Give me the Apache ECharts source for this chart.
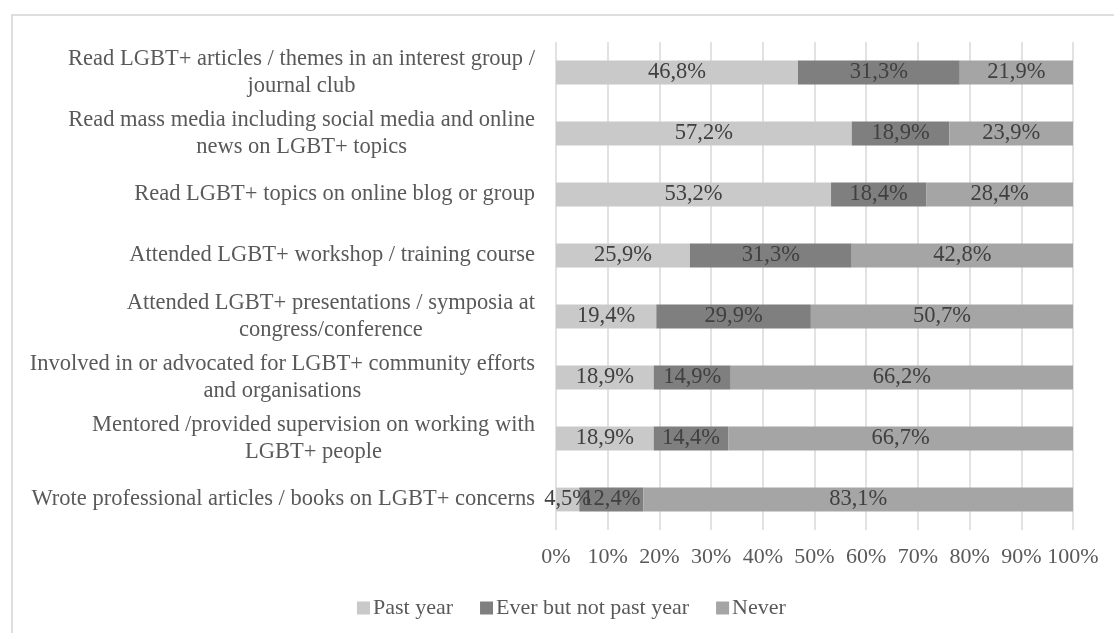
<!DOCTYPE html>
<html>
<head>
<meta charset="utf-8">
<script src="https://cdn.jsdelivr.net/npm/echarts@6/dist/echarts.min.js"></script>
<style>
  html, body { margin: 0; padding: 0; background: #ffffff; overflow: hidden; }
  #frame { position: absolute; left: 11px; top: 14px; width: 1200px; height: 700px;
           border: 2px solid #dedede; box-sizing: border-box; }
  #chart { position: absolute; left: 0; top: 0; width: 1114px; height: 633px; }
</style>
</head>
<body>
<div id="frame"></div>
<div id="chart"></div>
<script>
// Activities, top to bottom
const categories = [
  'Read LGBT+ articles / themes in an interest group /\njournal club',
  'Read mass media including social media and online\nnews on LGBT+ topics',
  'Read LGBT+ topics on online blog or group',
  'Attended LGBT+ workshop / training course',
  'Attended LGBT+ presentations / symposia at\ncongress/conference',
  'Involved in or advocated for LGBT+ community efforts\nand organisations',
  'Mentored /provided supervision on working with\nLGBT+ people',
  'Wrote professional articles / books on LGBT+ concerns'
];

// Share of respondents (%) per activity
const pastYear         = [46.8, 57.2, 53.2, 25.9, 19.4, 18.9, 18.9, 4.5];
const everNotPastYear  = [31.3, 18.9, 18.4, 31.3, 29.9, 14.9, 14.4, 12.4];
const never            = [21.9, 23.9, 28.4, 42.8, 50.7, 66.2, 66.7, 83.1];

const seriesNames = ['Past year', 'Ever but not past year', 'Never'];
const seriesColors = ['#c9c9c9', '#7f7f7f', '#a5a5a5'];

const FONT = '"Liberation Serif", "Times New Roman", serif';
const AXIS_COLOR = '#595959';
const LABEL_COLOR = '#404040';

const chart = echarts.init(document.getElementById('chart'), null, { renderer: 'canvas' });

function pct(v) {
  return v.toFixed(1).replace('.', ',') + '%';
}

const seriesData = [pastYear, everNotPastYear, never];

chart.setOption({
  animation: false,
  textStyle: { fontFamily: FONT },
  grid: { left: 556, right: 41, top: 42, bottom: 103, containLabel: false },
  xAxis: {
    type: 'value',
    min: 0,
    max: 100,
    interval: 10,
    axisLine: { show: false },
    axisTick: { show: false },
    axisLabel: {
      formatter: '{value}%',
      fontFamily: FONT,
      fontSize: 22,
      color: AXIS_COLOR,
      margin: 16
    },
    splitLine: { show: true, lineStyle: { color: '#d9d9d9', width: 1.5 } }
  },
  yAxis: {
    type: 'category',
    inverse: true,
    data: categories,
    axisLine: { show: false },
    axisTick: { show: false },
    axisLabel: {
      margin: 21,
      align: 'right',
      formatter: function (v) {
        return v.split('\n').map(function (s) { return '{c|' + s + '}'; }).join('\n');
      },
      rich: {
        c: { align: 'center', fontFamily: FONT, fontSize: 22.5, lineHeight: 27, color: AXIS_COLOR }
      }
    }
  },
  legend: {
    left: 352,
    top: 592,
    icon: 'rect',
    itemWidth: 13,
    itemHeight: 13,
    itemGap: 27,
    textStyle: { fontFamily: FONT, fontSize: 22, color: AXIS_COLOR, padding: [0, 0, 0, -2] },
    data: seriesNames
  },
  series: seriesNames.map(function (name, i) {
    return {
      name: name,
      type: 'bar',
      stack: 'total',
      barCategoryGap: '61%',
      data: seriesData[i],
      itemStyle: { color: seriesColors[i] },
      label: {
        show: true,
        position: 'inside',
        fontFamily: FONT,
        fontSize: 22.5,
        color: LABEL_COLOR,
        formatter: function (p) { return pct(p.value); }
      },
      emphasis: { disabled: true }
    };
  })
});
</script>
</body>
</html>
